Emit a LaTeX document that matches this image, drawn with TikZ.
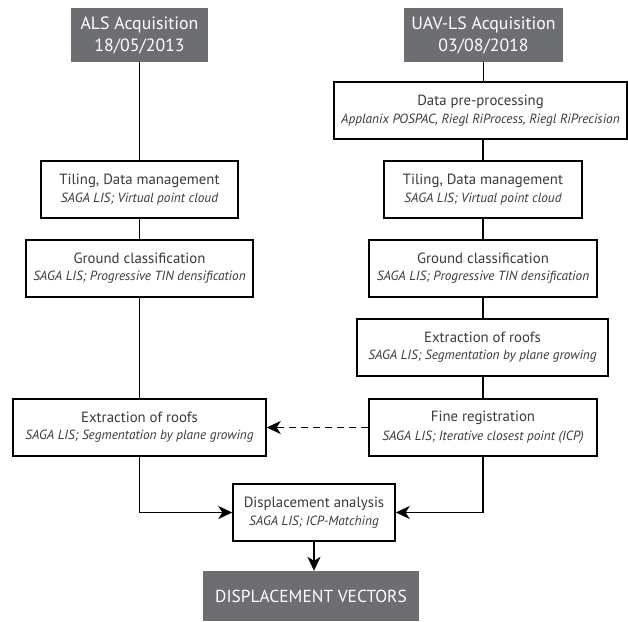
\documentclass[tikz,border=0pt]{standalone}
\usepackage{fontspec}
\setmainfont{PT Sans}
\usetikzlibrary{arrows.meta}
\definecolor{headgray}{HTML}{6D6E71}
\definecolor{txtgray}{HTML}{3A3A3C}
\newcommand{\ttl}[1]{{\fontsize{14.8}{17}\selectfont #1}}
\newcommand{\sub}[1]{{\fontsize{13.3}{15}\selectfont\itshape #1}}
\begin{document}
\begin{tikzpicture}[x=1pt,y=-1pt,
  procbox/.style={draw=black, line width=1.4pt, fill=white, text=txtgray, inner sep=0pt,
    minimum height=57pt, align=center},
  headbox/.style={fill=headgray, text=white, inner sep=0pt, align=center},
  conn/.style={line width=1.6pt},
  arr/.style={line width=1.6pt, -{Stealth[length=14pt,width=13pt,inset=4pt]}}
]
\useasboundingbox (0,0) rectangle (628,621);

% header boxes
\node[headbox, minimum width=137pt, minimum height=54pt, font=\fontsize{17.8}{22}\selectfont] (als) at (139.5,35) {ALS Acquisition\\18/05/2013};
\node[headbox, minimum width=159pt, minimum height=54pt, font=\fontsize{17.8}{22}\selectfont] (uav) at (483.5,35) {UAV-LS Acquisition\\03/08/2018};

% right column
\node[procbox, minimum width=293pt] (pre) at (480.5,110.5) {\ttl{Data pre-processing}\\[5pt]\sub{Applanix POSPAC, Riegl RiProcess, Riegl RiPrecision}};
\node[procbox, minimum width=198pt] (tilr) at (483,189.5) {\ttl{Tiling, Data management}\\[5pt]\sub{SAGA LIS; Virtual point cloud}};
\node[procbox, minimum width=228pt] (grdr) at (483,268.5) {\ttl{Ground classification}\\[5pt]\sub{SAGA LIS; Progressive TIN densification}};
\node[procbox, minimum width=251pt] (extr) at (482.5,347.5) {\ttl{Extraction of roofs}\\[5pt]\sub{SAGA LIS; Segmentation by plane growing}};
\node[procbox, minimum width=228pt] (fine) at (483,427.5) {\ttl{Fine registration}\\[5pt]\sub{SAGA LIS; Iterative closest point (ICP)}};

% left column
\node[procbox, minimum width=197pt] (till) at (139.5,189.5) {\ttl{Tiling, Data management}\\[5pt]\sub{SAGA LIS; Virtual point cloud}};
\node[procbox, minimum width=227pt] (grdl) at (139.5,268.5) {\ttl{Ground classification}\\[5pt]\sub{SAGA LIS; Progressive TIN densification}};
\node[procbox, minimum width=253pt] (extl) at (139.5,427.5) {\ttl{Extraction of roofs}\\[5pt]\sub{SAGA LIS; Segmentation by plane growing}};

% bottom
\node[procbox, minimum width=162pt] (disp) at (314,512.5) {\ttl{Displacement analysis}\\[5pt]\sub{SAGA LIS; ICP-Matching}};
\node[headbox, minimum width=216pt, minimum height=50pt, font=\fontsize{17.4}{20}\selectfont] (vec) at (311,596) {DISPLACEMENT VECTORS};

% connectors left
\draw[conn] (als.south) -- (till.north);
\draw[conn] (till.south) -- (grdl.north);
\draw[conn] (grdl.south) -- (extl.north);

% connectors right
\draw[conn] (uav.south) -- (uav.south |- pre.north);
\draw[conn] (tilr.north |- pre.south) -- (tilr.north);
\draw[conn] (tilr.south) -- (grdr.north);
\draw[conn] (grdr.south) -- (grdr.south |- extr.north);
\draw[conn] (fine.north |- extr.south) -- (fine.north);

% to analysis
\draw[arr] (extl.south) |- (disp.west);
\draw[arr] (fine.south) |- (disp.east);
\draw[arr] (disp.south) -- (disp.south |- vec.north);
\draw[arr, dash pattern=on 7pt off 5pt] (fine.west) -- (extl.east);
\end{tikzpicture}
\end{document}
